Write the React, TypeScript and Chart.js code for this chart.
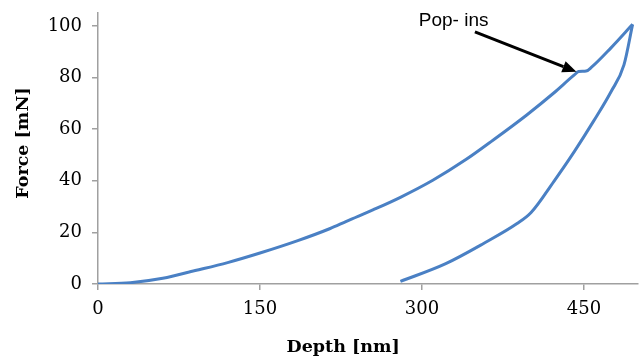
import React, { useEffect, useRef } from "react";
import { Chart, registerables } from "chart.js";

Chart.register(...registerables);

// Loading curve (depth nm, force mN)
const loadDepth = [0, 30, 60, 90, 120, 150, 185, 215, 230, 255, 280, 310, 341, 366, 397, 422, 441, 445, 452, 457, 475, 495];
const loadForce = [0, 0.5, 2.2, 5.2, 8.3, 12, 16.8, 21.5, 24.3, 28.8, 33.6, 40.2, 48.3, 55.8, 65.5, 74, 81, 82.3, 82.5, 84, 91.5, 100.6];

// Unloading curve
const unloadDepth = [280, 322, 357, 388, 401, 422, 441, 459, 475, 487, 495];
const unloadForce = [1, 7.9, 15.7, 23.4, 27.7, 39.7, 51.3, 63.2, 74.5, 84.9, 100.6];

const xTicks = [0, 150, 300, 450];
const yTicks = [0, 20, 40, 60, 80, 100];

const xTitle = "Depth [nm]";
const yTitle = "Force [mN]";

// Annotation: label and arrow (data units)
const annotationText = "Pop- ins";
const annotationTextAt = { x: 297, y: 101.9 };
const arrowTail = { x: 349, y: 97.7 };
const arrowTip = { x: 443, y: 82.2 };

const LINE_COLOR = "#4a80c4";
const AXIS_COLOR = "#a0a0a0";

const toPoints = (xs: number[], ys: number[]) => xs.map((x, i) => ({ x, y: ys[i] }));

const overlayPlugin = {
  id: "overlay",
  afterDraw(chart: any) {
    const { ctx, chartArea, scales } = chart;
    const xs = scales.x;
    const ys = scales.y;
    ctx.save();
    // axis titles
    ctx.fillStyle = "#000";
    ctx.font = 'bold 17.5px "DejaVu Serif"';
    ctx.textAlign = "center";
    ctx.textBaseline = "middle";
    ctx.fillText(xTitle, chartArea.left + (chartArea.right - chartArea.left) * 0.454, 347);
    ctx.save();
    ctx.translate(23, 143);
    ctx.rotate(-Math.PI / 2);
    ctx.fillText(yTitle, 0, 0);
    ctx.restore();

    // annotation text
    ctx.font = '19px "Liberation Sans"';
    ctx.textAlign = "left";
    ctx.textBaseline = "middle";
    ctx.fillText(annotationText, xs.getPixelForValue(annotationTextAt.x), ys.getPixelForValue(annotationTextAt.y));

    // arrow
    const x1 = xs.getPixelForValue(arrowTail.x);
    const y1 = ys.getPixelForValue(arrowTail.y);
    const x2 = xs.getPixelForValue(arrowTip.x);
    const y2 = ys.getPixelForValue(arrowTip.y);
    const ang = Math.atan2(y2 - y1, x2 - x1);
    const headLen = 14;
    const headW = 6;
    const bx = x2 - headLen * Math.cos(ang);
    const by = y2 - headLen * Math.sin(ang);
    ctx.strokeStyle = "#000";
    ctx.lineWidth = 3;
    ctx.beginPath();
    ctx.moveTo(x1, y1);
    ctx.lineTo(bx, by);
    ctx.stroke();
    ctx.beginPath();
    ctx.moveTo(x2, y2);
    ctx.lineTo(bx + headW * Math.sin(ang), by - headW * Math.cos(ang));
    ctx.lineTo(bx - headW * Math.sin(ang), by + headW * Math.cos(ang));
    ctx.closePath();
    ctx.fillStyle = "#000";
    ctx.fill();
    ctx.restore();
  },
};

export default function App() {
  const ref = useRef<HTMLCanvasElement>(null);
  useEffect(() => {
    if (!ref.current) return;
    const tickFont = { family: '"DejaVu Serif"', size: 18 };
    const chart = new Chart(ref.current, {
      type: "scatter",
      data: {
        datasets: [
          {
            label: "Loading",
            data: toPoints(loadDepth, loadForce),
            showLine: true,
            borderColor: LINE_COLOR,
            borderWidth: 3,
            pointRadius: 0,
            cubicInterpolationMode: "monotone",
          },
          {
            label: "Unloading",
            data: toPoints(unloadDepth, unloadForce),
            showLine: true,
            borderColor: LINE_COLOR,
            borderWidth: 3,
            pointRadius: 0,
            cubicInterpolationMode: "monotone",
          },
        ],
      },
      options: {
        responsive: false,
        animation: false,
        layout: { padding: { top: 13, right: 1, left: 0, bottom: 0 } },
        plugins: { legend: { display: false }, tooltip: { enabled: false } },
        scales: {
          x: {
            type: "linear",
            min: 0,
            max: 500,
            afterFit: (s: any) => { s.height = 74; s.paddingLeft = 0; s.paddingRight = 0; },
            afterBuildTicks: (s: any) => { s.ticks = xTicks.map((v) => ({ value: v })); },
            ticks: { font: tickFont, color: "#000", padding: 9, maxRotation: 0 },
            grid: { display: true, drawOnChartArea: false, drawTicks: true, tickLength: 6, color: AXIS_COLOR, lineWidth: 1.5 },
            border: { display: true, color: AXIS_COLOR, width: 1.5 },
          },
          y: {
            type: "linear",
            min: 0,
            max: 105,
            afterFit: (s: any) => { s.width = 98; s.paddingTop = 0; s.paddingBottom = 0; },
            afterBuildTicks: (s: any) => { s.ticks = yTicks.map((v) => ({ value: v })); },
            ticks: { font: tickFont, color: "#000", padding: 10 },
            grid: { display: true, drawOnChartArea: false, drawTicks: true, tickLength: 6, color: AXIS_COLOR, lineWidth: 1.5 },
            border: { display: true, color: AXIS_COLOR, width: 1.5 },
          },
        },
      },
      plugins: [overlayPlugin],
    });
    return () => chart.destroy();
  }, []);
  return (
    <div style={{ position: "fixed", left: 0, top: 0, width: 639, height: 358, background: "#fff" }}>
      <canvas ref={ref} width={639} height={358} style={{ display: "block" }} />
    </div>
  );
}
